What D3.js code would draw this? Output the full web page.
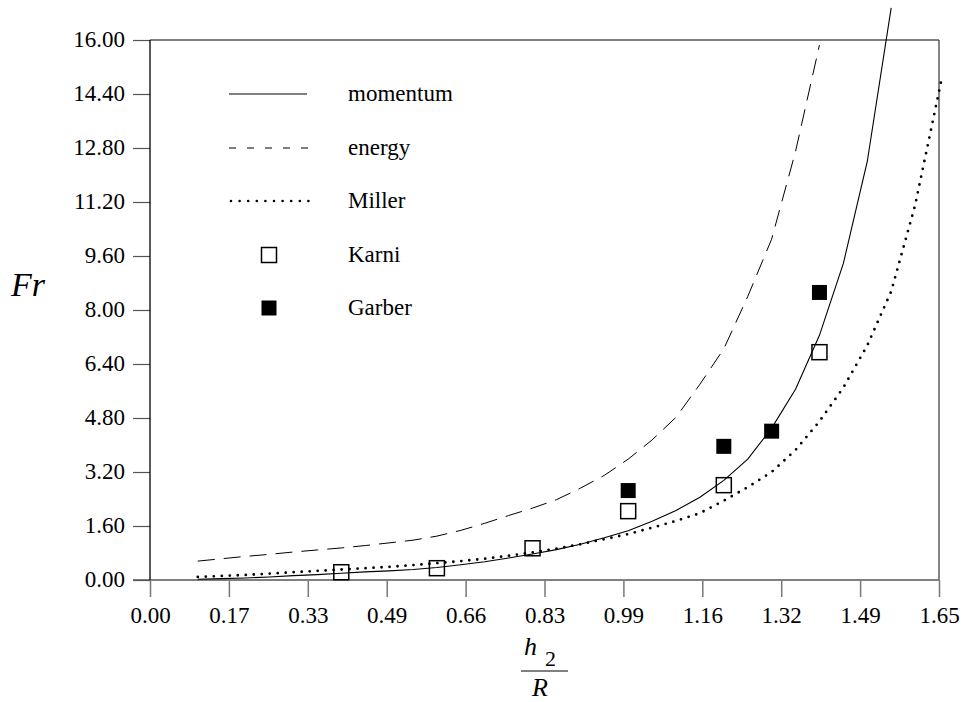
<!DOCTYPE html>
<html>
<head>
<meta charset="utf-8">
<script src="https://cdn.jsdelivr.net/npm/d3@7/dist/d3.min.js"></script>
<style>
  html, body { margin: 0; padding: 0; background: #fff; }
  svg { display: block; }
</style>
</head>
<body>
<svg id="chart" width="963" height="702"></svg>
<script>
// ---- data ----
const xTickValues = [0, 0.165, 0.33, 0.495, 0.66, 0.825, 0.99, 1.155, 1.32, 1.485, 1.65];
const xTickLabels = ["0.00","0.17","0.33","0.49","0.66","0.83","0.99","1.16","1.32","1.49","1.65"];
const yTickValues = [0, 1.6, 3.2, 4.8, 6.4, 8.0, 9.6, 11.2, 12.8, 14.4, 16.0];
const yTickLabels = ["0.00","1.60","3.20","4.80","6.40","8.00","9.60","11.20","12.80","14.40","16.00"];

const momentumX = [0.10,0.15,0.20,0.25,0.30,0.35,0.40,0.45,0.50,0.55,0.60,0.65,0.70,0.75,0.80,0.85,0.90,0.95,1.00,1.05,1.10,1.15,1.20,1.25,1.30,1.35,1.40,1.45,1.50,1.55];
const momentumY = [0.02,0.04,0.06,0.09,0.13,0.16,0.20,0.24,0.27,0.31,0.37,0.45,0.54,0.65,0.77,0.90,1.06,1.25,1.46,1.74,2.06,2.45,2.95,3.58,4.50,5.65,7.25,9.38,12.40,16.95];

const energyX = [0.10,0.15,0.20,0.25,0.30,0.35,0.40,0.45,0.50,0.55,0.60,0.65,0.70,0.75,0.80,0.85,0.90,0.95,1.00,1.05,1.10,1.15,1.20,1.25,1.30,1.35,1.40];
const energyY = [0.56,0.63,0.70,0.76,0.83,0.89,0.95,1.02,1.10,1.18,1.30,1.47,1.68,1.91,2.13,2.38,2.72,3.10,3.58,4.15,4.82,5.80,6.85,8.40,10.10,12.70,15.85];

const millerX = [0.10,0.15,0.20,0.25,0.30,0.35,0.40,0.45,0.50,0.55,0.60,0.65,0.70,0.75,0.80,0.85,0.90,0.95,1.00,1.05,1.10,1.15,1.20,1.25,1.30,1.35,1.40,1.45,1.50,1.55,1.60,1.655];
const millerY = [0.09,0.12,0.15,0.19,0.23,0.27,0.31,0.35,0.39,0.44,0.50,0.56,0.63,0.72,0.82,0.93,1.06,1.21,1.36,1.55,1.75,1.98,2.35,2.75,3.20,3.85,4.70,5.70,6.95,8.55,11.10,14.81];

const karniX = [0.40, 0.60, 0.80, 1.00, 1.20, 1.40];
const karniY = [0.23, 0.35, 0.94, 2.04, 2.81, 6.75];
const garberX = [1.00, 1.20, 1.30, 1.40];
const garberY = [2.65, 3.96, 4.41, 8.52];

const legendLabels = ["momentum", "energy", "Miller", "Karni", "Garber"];

// ---- drawing ----
const FONT = "'Liberation Serif', 'Times New Roman', Tinos, 'Nimbus Roman', 'Nimbus Roman No9 L', FreeSerif, 'Noto Serif', 'DejaVu Serif', Times, serif";
const svg = d3.select("#chart").style("font-family", FONT);
const x = d3.scaleLinear().domain([0, 1.65]).range([150, 939]);
const y = d3.scaleLinear().domain([0, 16]).range([580, 40]);

// frame
svg.append("line").attr("x1", 150).attr("x2", 939).attr("y1", y(16)).attr("y2", y(16))
  .attr("stroke", "#000").attr("stroke-width", 1.2);
svg.append("line").attr("x1", 939).attr("x2", 939).attr("y1", y(16)).attr("y2", y(0))
  .attr("stroke", "#333").attr("stroke-width", 1.2);

// x axis
const xAxis = d3.axisBottom(x).tickValues(xTickValues)
  .tickFormat((d, i) => xTickLabels[i]).tickSize(17).tickPadding(10);
const gx = svg.append("g").attr("transform", `translate(0,${y(0)})`).call(xAxis);
gx.select(".domain").remove();
gx.selectAll(".tick line").attr("stroke", "#777").attr("stroke-width", 1.5);
gx.selectAll(".tick text").style("font-family", FONT).style("font-size", "23px").attr("fill", "#000");
svg.append("line").attr("x1", 133).attr("x2", 939).attr("y1", y(0)).attr("y2", y(0))
  .attr("stroke", "#808080").attr("stroke-width", 2);

// y axis
const yAxis = d3.axisLeft(y).tickValues(yTickValues)
  .tickFormat((d, i) => yTickLabels[i]).tickSize(17).tickPadding(8);
const gy = svg.append("g").attr("transform", `translate(150,0)`).call(yAxis);
gy.select(".domain").remove();
gy.selectAll(".tick line").attr("stroke", "#555").attr("stroke-width", 1.2);
gy.selectAll(".tick text").attr("dy", "0.3em").style("font-family", FONT).style("font-size", "23px").attr("fill", "#000");
svg.append("line").attr("x1", 150).attr("x2", 150).attr("y1", y(16)).attr("y2", y(0))
  .attr("stroke", "#000").attr("stroke-width", 1.3);

// curves
const line = d3.line().x(d => x(d[0])).y(d => y(d[1]));
const zip = (a, b) => a.map((v, i) => [v, b[i]]);

svg.append("path").datum(zip(energyX, energyY)).attr("d", line)
  .attr("fill", "none").attr("stroke", "#000").attr("stroke-width", 1)
  .attr("stroke-dasharray", "17,9");
svg.append("path").datum(zip(momentumX, momentumY)).attr("d", line)
  .attr("fill", "none").attr("stroke", "#000").attr("stroke-width", 1.1);
svg.append("path").datum(zip(millerX, millerY)).attr("d", line)
  .attr("fill", "none").attr("stroke", "#000").attr("stroke-width", 2.8)
  .attr("stroke-linecap", "round").attr("stroke-dasharray", "0,8");

// markers
const sq = 15;
svg.selectAll(".karni").data(zip(karniX, karniY)).enter().append("rect")
  .attr("x", d => x(d[0]) - sq / 2).attr("y", d => y(d[1]) - sq / 2)
  .attr("width", sq).attr("height", sq)
  .attr("fill", "none").attr("stroke", "#000").attr("stroke-width", 1.5);
svg.selectAll(".garber").data(zip(garberX, garberY)).enter().append("rect")
  .attr("x", d => x(d[0]) - sq / 2).attr("y", d => y(d[1]) - sq / 2)
  .attr("width", sq).attr("height", sq).attr("fill", "#000");

// legend
const legY = [94, 148, 201, 255, 308];
const lg = svg.append("g");
lg.append("line").attr("x1", 229).attr("x2", 307).attr("y1", legY[0]).attr("y2", legY[0])
  .attr("stroke", "#000").attr("stroke-width", 1);
lg.append("line").attr("x1", 229).attr("x2", 310).attr("y1", legY[1]).attr("y2", legY[1])
  .attr("stroke", "#000").attr("stroke-width", 1).attr("stroke-dasharray", "7,11");
lg.append("line").attr("x1", 231).attr("x2", 311).attr("y1", legY[2]).attr("y2", legY[2])
  .attr("stroke", "#000").attr("stroke-width", 2.6).attr("stroke-linecap", "round")
  .attr("stroke-dasharray", "0,8.6");
lg.append("rect").attr("x", 269 - sq / 2).attr("y", legY[3] - sq / 2).attr("width", sq).attr("height", sq)
  .attr("fill", "none").attr("stroke", "#000").attr("stroke-width", 1.5);
lg.append("rect").attr("x", 269 - sq / 2).attr("y", legY[4] - sq / 2).attr("width", sq).attr("height", sq)
  .attr("fill", "#000");
lg.selectAll("text").data(legendLabels).enter().append("text")
  .attr("x", 348).attr("y", (d, i) => legY[i] + 7).style("font-family", FONT)
  .style("font-size", "23px").text(d => d);

// axis titles
svg.append("text").attr("x", 11).attr("y", 296).style("font-family", FONT).style("font-size", "34px")
  .style("font-style", "italic").text("Fr");
const xt = svg.append("g");
xt.append("text").attr("x", 524).attr("y", 655).style("font-family", FONT).style("font-size", "26px")
  .style("font-style", "italic").text("h");
xt.append("text").attr("x", 545).attr("y", 666).style("font-family", FONT).style("font-size", "22px").text("2");
xt.append("line").attr("x1", 521).attr("x2", 568).attr("y1", 671).attr("y2", 671)
  .attr("stroke", "#000").attr("stroke-width", 1);
xt.append("text").attr("x", 532).attr("y", 696).style("font-family", FONT).style("font-size", "26px")
  .style("font-style", "italic").text("R");
</script>
</body>
</html>
